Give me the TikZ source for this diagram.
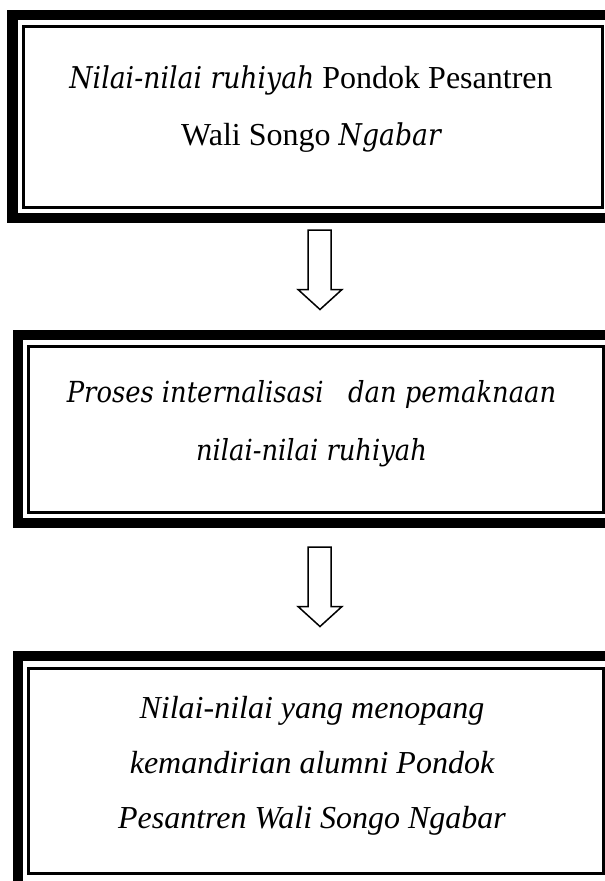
\documentclass[tikz,border=0pt]{standalone}
\usepackage{fontspec}
\setmainfont{Liberation Serif}
\newfontfamily\camfont[FakeStretch=0.89]{DejaVu Serif}
\begin{document}
\begin{tikzpicture}[x=0.4pt,y=-0.4pt,
  thinbox/.style={draw,line width=1.2pt,inner sep=0pt,anchor=north west},
  thickframe/.style={draw,line width=4pt},
  boxtext/.style={align=center,inner sep=0pt},
  blockarrow/.pic={\draw[line width=0.6pt,fill=white,line join=miter]
     (-11.5,0) -- (11.5,0) -- (11.5,59.5) -- (22.5,59.5) -- (0.5,79.5)
     -- (-21.5,59.5) -- (-11.5,59.5) -- cycle;}]
\useasboundingbox (0,0) rectangle (605,881);
% boxes
\node[thinbox,minimum width=231.8pt,minimum height=72.4pt] (b1) at (21.5,24.5) {};
\node[thinbox,minimum width=230pt,minimum height=66.4pt] (b2) at (26.5,344.5) {};
\node[thinbox,minimum width=230pt,minimum height=82pt] (b3) at (26.5,666.5) {};
\draw[thickframe] ([shift={(-9,-9.5)}]b1.north west) rectangle ([shift={(11,9)}]b1.south east);
\draw[thickframe] ([shift={(-9,-9.5)}]b2.north west) rectangle ([shift={(10.5,9.5)}]b2.south east);
\draw[thickframe] ([shift={(-9,-10.5)}]b3.north west) rectangle ([shift={(10.5,11.5)}]b3.south east);
% texts
\node[boxtext,font=\fontsize{12.8}{22.8}\selectfont] (t1) at (311,105.1)
  {\strut{\fontsize{12}{22.8}\camfont\itshape Nilai-nilai ruhiyah} Pondok Pesantren\\
   \strut Wali Songo {\fontsize{12}{22.8}\camfont\itshape Ngabar}};
\node[boxtext,font=\fontsize{11.6}{23.2}\camfont\itshape] (t2) at (311.5,419.4)
  {\strut Proses internalisasi\ \ \ dan pemaknaan\\ \strut nilai-nilai ruhiyah};
\node[boxtext,font=\fontsize{12.8}{22}\selectfont\itshape] (t3) at (312,762)
  {\strut Nilai-nilai yang menopang\\ \strut kemandirian alumni Pondok\\ \strut Pesantren Wali Songo Ngabar};
% arrows
\pic at (319.5,230) {blockarrow};
\pic at (319.5,547) {blockarrow};
\end{tikzpicture}
\end{document}
